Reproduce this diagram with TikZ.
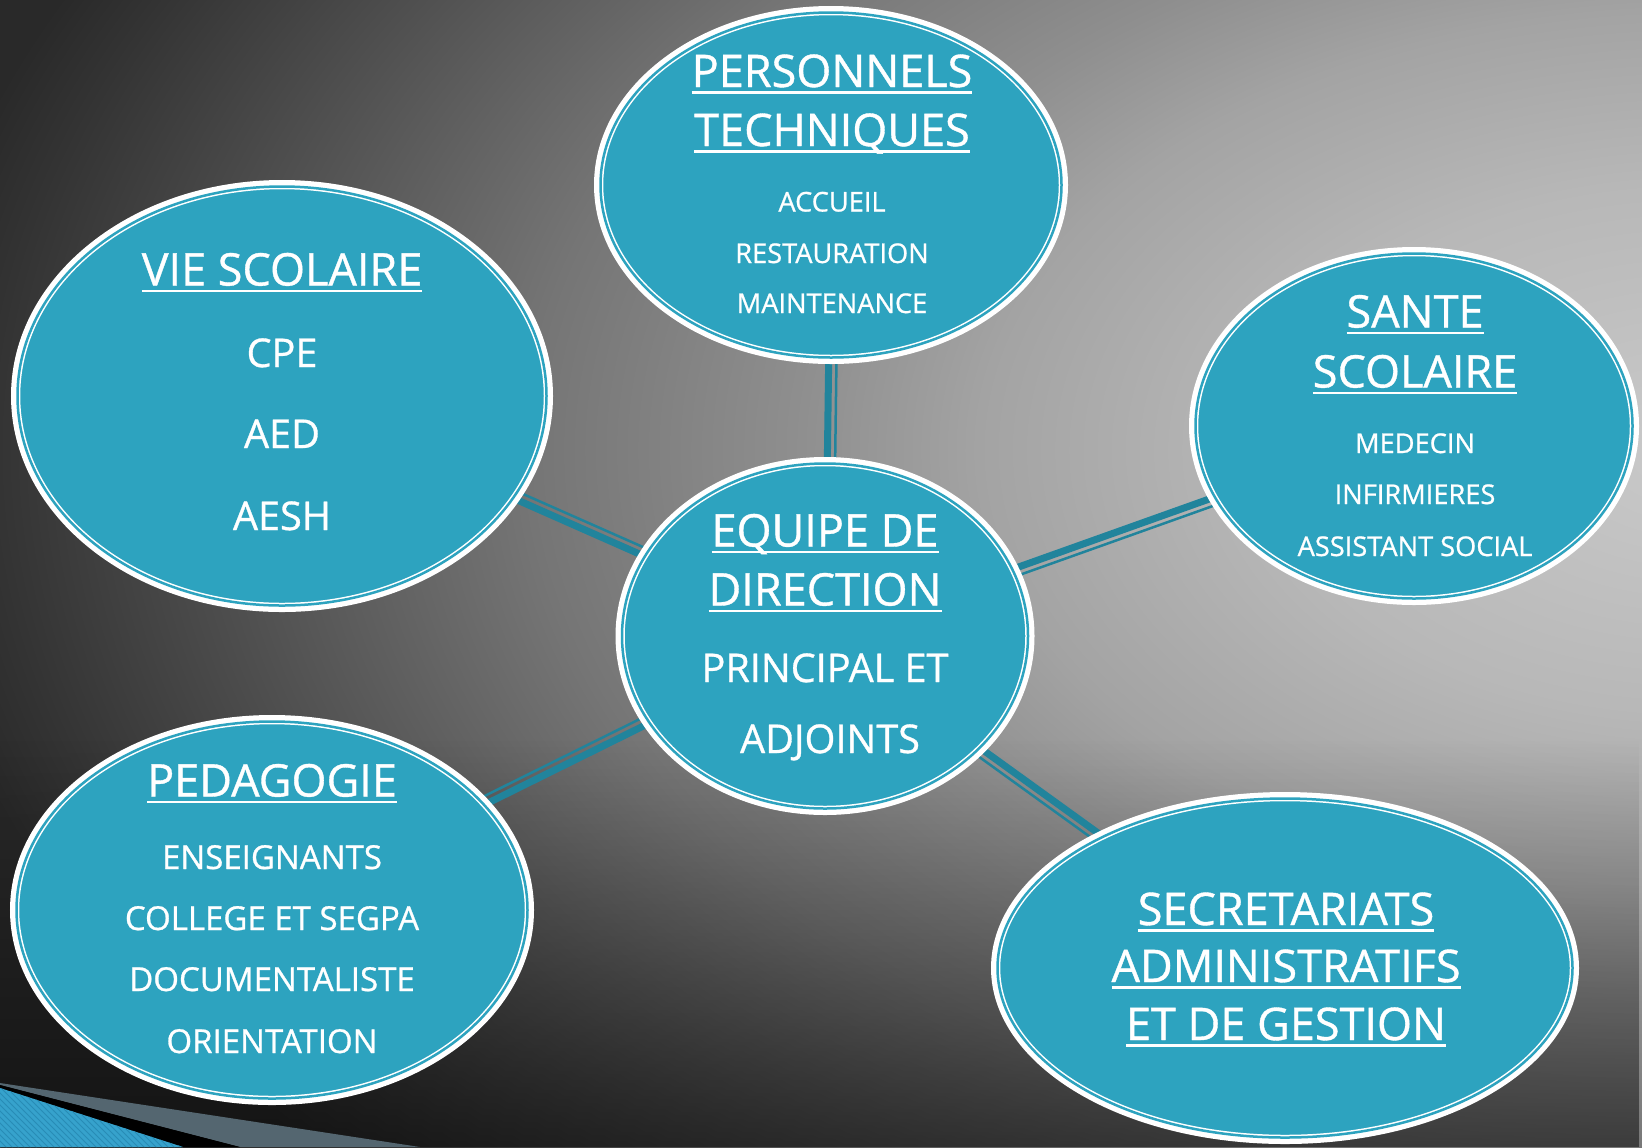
\documentclass[tikz,border=0pt]{standalone}
\usepackage{fontspec}
\setmainfont{Open Sans}[RawFeature={embolden=0.8}]
\usetikzlibrary{shapes.geometric,fadings,patterns}

\definecolor{bubblec}{RGB}{45,163,191}
\definecolor{linkc}{RGB}{33,132,156}
\definecolor{cornerc}{RGB}{54,162,204}
\definecolor{stripec}{RGB}{40,140,182}
\definecolor{slatec}{RGB}{84,102,112}

\pgfdeclarelayer{bg}
\pgfdeclarelayer{links}
\pgfsetlayers{bg,links,main}

\pgfdeclareradialshading{bgglow}{\pgfpoint{0bp}{0bp}}{%
  color(0bp)=(white!79!black); color(6bp)=(white!72!black);
  color(10bp)=(white!64!black); color(12.5bp)=(white!56!black);
  color(16.25bp)=(white!46!black); color(20bp)=(white!33!black);
  color(23.75bp)=(white!20!black); color(25bp)=(white!16!black);
  color(50bp)=(white!16!black)}
\tikzfading[name=fadedown, top color=transparent!100, bottom color=transparent!0]

\newcommand{\headul}[1]{\setbox0=\hbox{#1}\rlap{\rule[-3.4pt]{\wd0}{1.2pt}}\box0}

\tikzset{
  bubble/.style={ellipse, inner sep=0pt, fill=bubblec, draw=white, line width=2.75pt,
    preaction={draw=white, line width=6.5pt}, postaction={draw=bubblec, line width=1.25pt}},
  link/.style={draw=linkc, line width=3.5pt,
    postaction={draw=linkc, line width=1.25pt, transform canvas={shift={#1}}}},
  head/.style={text=white, inner sep=0pt, anchor=base, font=\fontsize{22.5pt}{27pt}\selectfont},
  itemS/.style={text=white, inner sep=0pt, anchor=base, font=\fontsize{13.6pt}{16pt}\selectfont},
  itemM/.style={text=white, inner sep=0pt, anchor=base, font=\fontsize{16.5pt}{20pt}\selectfont},
  itemL/.style={text=white, inner sep=0pt, anchor=base, font=\fontsize{19.8pt}{24pt}\selectfont}
}

\begin{document}
\begin{tikzpicture}[x=0.5pt, y=-0.5pt]
        \useasboundingbox (0,0) rectangle (1642,1147);

        \begin{pgfonlayer}{bg}
          \begin{scope}
            \clip (0,0) rectangle (1642,1147);
            \shade[shading=bgglow] (-100,-650) rectangle (3500,1550);
            \fill[black, opacity=0.5, path fading=fadedown] (0,740) rectangle (1642,1147);
            \fill[slatec] (0,1083) -- (420,1147) -- (240,1147) -- (0,1085) -- cycle;
            \fill[black] (0,1085) -- (240,1147) -- (183,1147) -- (0,1088) -- cycle;
            \fill[cornerc] (0,1088) -- (183,1147) -- (0,1147) -- cycle;
            \fill[pattern=north west lines, pattern color=stripec] (0,1088) -- (183,1147) -- (0,1147) -- cycle;
          \end{scope}
        \end{pgfonlayer}

        \node[bubble, minimum width=230.5pt, minimum height=172.5pt] (pers) at (831,185) {};
        \node[bubble, minimum width=264.5pt, minimum height=209.5pt] (vie) at (282,396) {};
        \node[bubble, minimum width=218.5pt, minimum height=172.5pt] (sante) at (1414,426) {};
        \node[bubble, minimum width=203pt, minimum height=172.5pt] (equipe) at (825,636) {};
        \node[bubble, minimum width=255.5pt, minimum height=188.5pt] (peda) at (272,910) {};
        \node[bubble, minimum width=287.5pt, minimum height=169.5pt] (secr) at (1285,968) {};

        \begin{pgfonlayer}{links}
          \draw[link={(3.9pt,0pt)}] (pers) -- (equipe);
          \draw[link={(1.57pt,3.57pt)}] (vie) -- (equipe);
          \draw[link={(1.31pt,-3.67pt)}] (sante) -- (equipe);
          \draw[link={(-1.74pt,3.49pt)}] (peda) -- (equipe);
          \draw[link={(-2.28pt,-3.16pt)}] (equipe) -- (secr);
        \end{pgfonlayer}

        \node[head] (pers1) at (832,87) {\headul{PERSONNELS}};
        \node[head] (pers2) at (832,146) {\headul{TECHNIQUES}};
        \node[itemS] (pers3) at (832,211.5) {ACCUEIL};
        \node[itemS] (pers4) at (832,263) {RESTAURATION};
        \node[itemS] (pers5) at (832,313) {MAINTENANCE};

        \node[head] (vie1) at (282,285.5) {\headul{VIE SCOLAIRE}};
        \node[itemL] (vie2) at (282,367) {CPE};
        \node[itemL] (vie3) at (282,448) {AED};
        \node[itemL] (vie4) at (282,530) {AESH};

        \node[head] (sante1) at (1415,327.5) {\headul{SANTE}};
        \node[head] (sante2) at (1415,387.5) {\headul{SCOLAIRE}};
        \node[itemS] (sante3) at (1415,453) {MEDECIN};
        \node[itemS] (sante4) at (1415,504) {INFIRMIERES};
        \node[itemS] (sante5) at (1415,556) {ASSISTANT SOCIAL};

        \node[head] (equipe1) at (825,546.5) {\headul{EQUIPE DE}};
        \node[head] (equipe2) at (825,605.5) {\headul{DIRECTION}};
        \node[itemL] (equipe3) at (825,682) {PRINCIPAL ET};
        \node[itemL] (equipe4) at (830,753) {ADJOINTS};

        \node[head] (peda1) at (272,796.5) {\headul{PEDAGOGIE}};
        \node[itemM] (peda2) at (272,869) {ENSEIGNANTS};
        \node[itemM] (peda3) at (272,930) {COLLEGE ET SEGPA};
        \node[itemM] (peda4) at (272,991) {DOCUMENTALISTE};
        \node[itemM] (peda5) at (272,1053) {ORIENTATION};

        \node[head] (secr1) at (1286,925) {\headul{SECRETARIATS}};
        \node[head] (secr2) at (1286,982) {\headul{ADMINISTRATIFS}};
        \node[head] (secr3) at (1286,1040) {\headul{ET DE GESTION}};
      \end{tikzpicture}
\end{document}
